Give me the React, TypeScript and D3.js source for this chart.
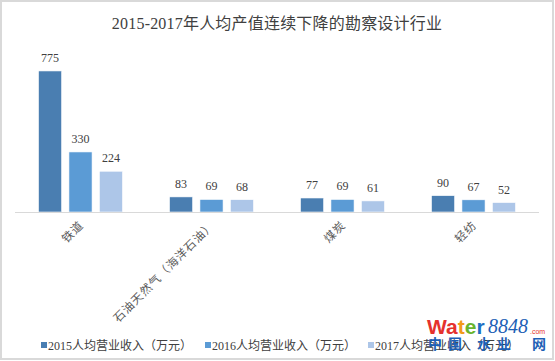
import React from "react";
import * as d3 from "d3";

const categories = ["铁道", "石油天然气（海洋石油）", "煤炭", "轻纺"];
const seriesNames = ["2015人均营业收入（万元）", "2016人均营业收入（万元）", "2017人均营业收入（万元）"];
const values2015 = [775, 83, 77, 90];
const values2016 = [330, 69, 69, 67];
const values2017 = [224, 68, 61, 52];
const title = "2015-2017年人均产值连续下降的勘察设计行业";
const watermarkChars = ["中", "国", "水", "业", "网"];

const W = 555;
const H = 361;
const colors = ["#4A7EB1", "#5B9BD5", "#ADC6E8"];
const serif = "'Liberation Serif', 'Times New Roman', 'Noto Sans CJK SC', serif";

export default function App() {
  const series = [values2015, values2016, values2017];
  const x = d3.scaleBand<string>().domain(categories).range([15, 539]);
  const inner = d3.scaleBand<number>().domain([0, 1, 2]).range([-42, 42]).paddingInner(0.24).paddingOuter(0);
  const y = d3.scaleLinear().domain([0, 900]).range([212, 212 - 900 * 0.182]);

  const legendX = [41, 205, 368];
  const wmX = [435, 455, 484, 504, 539];

  return (
    <div style={{ position: "absolute", left: 0, top: 0 }}>
      <svg width={W} height={H} style={{ display: "block" }}>
        <rect x={0} y={0} width={W} height={H} fill="#ffffff" />
        <rect x={1} y={1} width={552} height={358} fill="none" stroke="#d9d9d9" strokeWidth={2} />
        <text x={277} y={29} textAnchor="middle" fontFamily={serif} fontSize={16} letterSpacing={0.2} fill="#404040">
          {title}
        </text>
        {categories.map((c, i) => {
          const cx = (x(c) as number) + x.bandwidth() / 2;
          return (
            <g key={c}>
              {series.map((s, j) => {
                const bx = cx + (inner(j) as number);
                return (
                  <g key={j}>
                    <rect
                      x={bx}
                      y={y(s[i])}
                      width={inner.bandwidth()}
                      height={y(0) - y(s[i])}
                      fill={colors[j]}
                      stroke="#ffffff"
                      strokeWidth={0.6}
                    />
                    <text
                      x={bx + inner.bandwidth() / 2}
                      y={y(s[i]) - 9}
                      textAnchor="middle"
                      fontFamily={serif}
                      fontSize={12}
                      fill="#404040"
                    >
                      {s[i]}
                    </text>
                  </g>
                );
              })}
              <text
                transform={`translate(${cx + 2},${224}) rotate(-45)`}
                textAnchor="end"
                dominantBaseline="middle"
                fontFamily={serif}
                fontSize={11.5}
                letterSpacing={1}
                fill="#595959"
              >
                {c}
              </text>
            </g>
          );
        })}
        <line x1={15} x2={539} y1={212.5} y2={212.5} stroke="#d9d9d9" strokeWidth={1} />
        {seriesNames.map((n, j) => (
          <g key={n}>
            <rect x={legendX[j]} y={342} width={6} height={6} fill={colors[j]} />
            <text x={legendX[j] + 7} y={349.5} fontFamily={serif} fontSize={12} fill="#404040">
              {n}
            </text>
          </g>
        ))}
        <g>
          <text x={427} y={334} fontFamily="'Liberation Sans', Arial, sans-serif" fontWeight="bold" fontSize={21}>
            <tspan fill="#e5322d">Wa</tspan>
            <tspan fill="#f39a1b">t</tspan>
            <tspan fill="#6ab42d">e</tspan>
            <tspan fill="#1d6fc4">r</tspan>
          </text>
          <text x={488} y={333} fontFamily="'Liberation Serif', serif" fontStyle="italic" fontSize={20} fill="#1d5fb5">
            8848
          </text>
          <text x={530} y={334} fontFamily="'Liberation Sans', Arial, sans-serif" fontSize={7} fill="#e5322d">
            .com
          </text>
          {watermarkChars.map((ch, k) => (
            <text
              key={ch}
              x={wmX[k]}
              y={349}
              textAnchor="middle"
              fontFamily="'Noto Sans CJK SC', sans-serif"
              fontWeight="bold"
              fontSize={14}
              fill="#1d5fb5"
            >
              {ch}
            </text>
          ))}
        </g>
      </svg>
    </div>
  );
}
